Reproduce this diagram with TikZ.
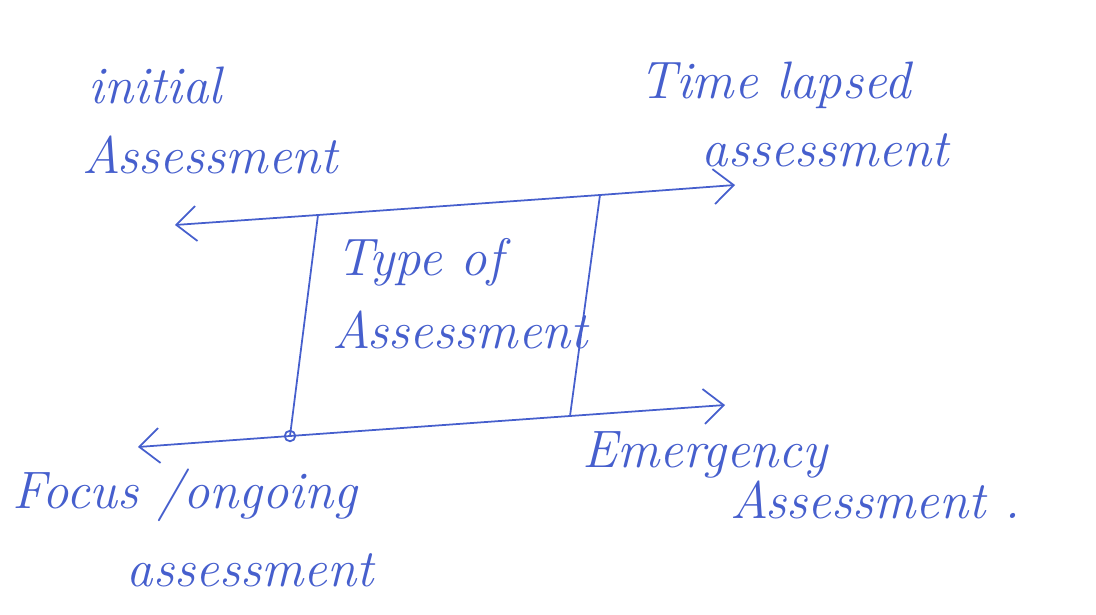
\documentclass[tikz,border=0pt]{standalone}
\usepackage{amsmath, amssymb, tikz}
\usetikzlibrary{arrows.meta}
\definecolor{penblue}{RGB}{70,95,205}

\begin{document}
\begin{tikzpicture}[
        x=0.02cm, y=-0.02cm,
        pen/.style={penblue, line width=1pt, line cap=round},
        barb/.style={-{Straight Barb[length=4mm, width=7mm]}},
        hand/.style={penblue, inner sep=0pt, font=\fontsize{30}{36}\selectfont\itshape}
    ]
        \useasboundingbox (0,0) rectangle (1096,615);

        % 1. Corners of the box and the free ends of the arrows
        \coordinate (tl) at (318,215);
        \coordinate (tr) at (600,195);
        \coordinate (bl) at (290,436);
        \coordinate (br) at (570,416);
        \coordinate (initEnd)  at (175,225);
        \coordinate (timeEnd)  at (735,185);
        \coordinate (focusEnd) at (138,447);
        \coordinate (emergEnd) at (725,405);

        % 2. Box sides, then the four arrows leaving it
        \draw[pen] (tl) -- (tr);
        \draw[pen] (bl) -- (br);
        \draw[pen] (tl) -- (bl);
        \draw[pen] (tr) -- (br);
        \draw[pen, barb] (tl) -- (initEnd);
        \draw[pen, barb] (tr) -- (timeEnd);
        \draw[pen, barb] (bl) -- (focusEnd);
        \draw[pen, barb] (br) -- (emergEnd);
        \draw[pen] (bl) circle (3pt);

        % 3. Labels
        \node[hand] (type1) at (420,262) {Type of};
        \node[hand] (type2) at (460,330) {Assessment};

        \node[hand] (init1) at (155,85)  {initial};
        \node[hand] (init2) at (210,155) {Assessment};

        \node[hand] (time1) at (775,85)  {Time lapsed};
        \node[hand] (time2) at (825,150) {assessment};

        \node[hand] (focus1) at (185,495) {Focus /ongoing};
        \node[hand] (focus2) at (250,570) {assessment};

        \node[hand] (emerg1) at (705,455) {Emergency};
        \node[hand] (emerg2) at (875,500) {Assessment .};

    \end{tikzpicture}
\end{document}
